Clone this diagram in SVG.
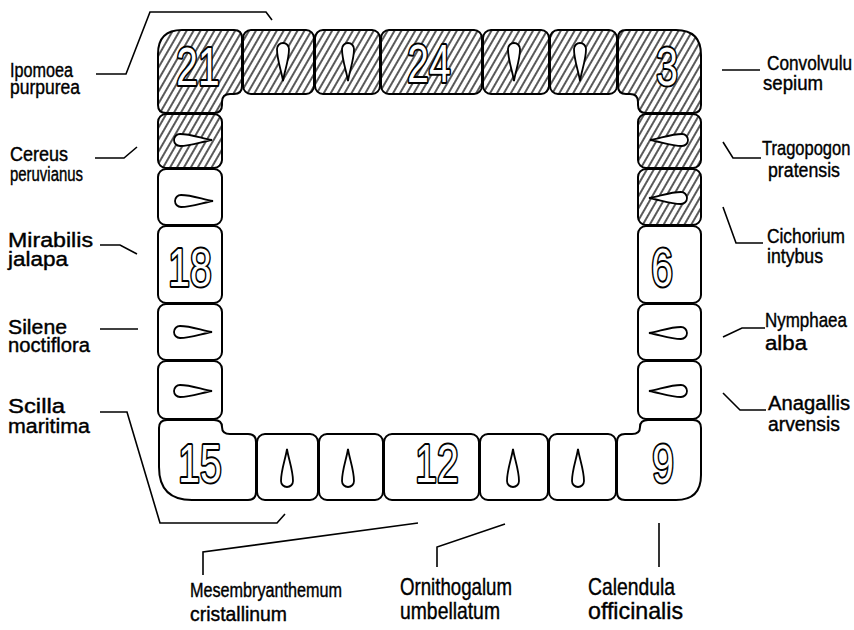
<svg xmlns="http://www.w3.org/2000/svg" width="854" height="630" viewBox="0 0 854 630">
<defs>
<pattern id="hatch" width="6" height="6" patternUnits="userSpaceOnUse" patternTransform="rotate(30)">
<rect width="6" height="6" fill="#fff"/>
<line x1="3" y1="0" x2="3" y2="6" stroke="#000" stroke-width="1.3"/>
</pattern>
<path id="drop" d="M0,-20 C1.5,-10 6,1 6,12 A6,6 0 0 1 -6,12 C-6,1 -1.5,-10 0,-20 Z"/>
</defs>
<style>
.cell{fill:#fff;stroke:#000;stroke-width:2;stroke-linejoin:round}
.h{fill:url(#hatch)}
.num{font-family:"Liberation Sans",Arial,sans-serif;font-size:54px;fill:#fff;stroke:#000;stroke-width:4;paint-order:stroke;stroke-linejoin:round;text-anchor:middle}
.drop{fill:#fff;stroke:#000;stroke-width:1.8}
.lbl{font-family:"Liberation Sans",Arial,sans-serif;font-size:20px;fill:#000;stroke:#000;stroke-width:0.4}
.big{font-size:24px}
.lead{fill:none;stroke:#000;stroke-width:1.6;stroke-linejoin:miter}
</style>
<rect width="854" height="630" fill="#fff"/>

<!-- top row -->
<g id="cell-21">
<path class="cell h" d="M158,54 Q158,30 182,30 L234,30 Q242,30 242,38 L242,86 Q242,94 234,94 L230,94 Q222,94 222,102 L222,105 Q222,113 214,113 L166,113 Q158,113 158,105 Z"/>
<text class="num" transform="translate(198,85) scale(0.72,1)">21</text>
</g>
<g id="cell-22">
<rect class="cell h" x="243" y="30" width="71" height="64" rx="8"/>
<use href="#drop" class="drop" transform="translate(283,61) rotate(180)"/>
</g>
<g id="cell-23">
<rect class="cell h" x="315" y="30" width="65" height="64" rx="8"/>
<use href="#drop" class="drop" transform="translate(348,61) rotate(180)"/>
</g>
<g id="cell-24">
<rect class="cell h" x="381" y="30" width="101" height="64" rx="8"/>
<text class="num" transform="translate(429,82) scale(0.72,1)">24</text>
</g>
<g id="cell-1">
<rect class="cell h" x="483" y="30" width="66" height="64" rx="8"/>
<use href="#drop" class="drop" transform="translate(514,61) rotate(180)"/>
</g>
<g id="cell-2">
<rect class="cell h" x="550" y="30" width="67" height="64" rx="8"/>
<use href="#drop" class="drop" transform="translate(580,61) rotate(180)"/>
</g>
<g id="cell-3">
<path class="cell h" d="M618,38 Q618,30 626,30 L676,30 Q701,30 701,55 L701,105 Q701,113 693,113 L646,113 Q638,113 638,105 L638,102 Q638,94 630,94 L626,94 Q618,94 618,86 Z"/>
<text class="num" transform="translate(667,85) scale(0.72,1)">3</text>
</g>

<!-- left column -->
<g id="cell-20">
<rect class="cell h" x="158" y="114" width="64" height="54" rx="8"/>
<use href="#drop" class="drop" transform="translate(192,140) rotate(90)"/>
</g>
<g id="cell-19">
<rect class="cell" x="158" y="169" width="64" height="56" rx="8"/>
<use href="#drop" class="drop" transform="translate(193,201) rotate(90)"/>
</g>
<g id="cell-18">
<rect class="cell" x="158" y="226" width="64" height="77" rx="8"/>
<text class="num" transform="translate(190,286) scale(0.72,1)">18</text>
</g>
<g id="cell-17">
<rect class="cell" x="158" y="304" width="64" height="56" rx="8"/>
<use href="#drop" class="drop" transform="translate(192,332) rotate(90)"/>
</g>
<g id="cell-16">
<rect class="cell" x="158" y="361" width="64" height="58" rx="8"/>
<use href="#drop" class="drop" transform="translate(192,391) rotate(90)"/>
</g>

<!-- right column -->
<g id="cell-4">
<rect class="cell h" x="638" y="114" width="63" height="54" rx="8"/>
<use href="#drop" class="drop" transform="translate(670,140) rotate(-90)"/>
</g>
<g id="cell-5">
<rect class="cell h" x="638" y="169" width="63" height="56" rx="8"/>
<use href="#drop" class="drop" transform="translate(669,198) rotate(-90)"/>
</g>
<g id="cell-6">
<rect class="cell" x="638" y="226" width="63" height="77" rx="8"/>
<text class="num" transform="translate(662,286) scale(0.72,1)">6</text>
</g>
<g id="cell-7">
<rect class="cell" x="638" y="304" width="63" height="56" rx="8"/>
<use href="#drop" class="drop" transform="translate(669,333) rotate(-90)"/>
</g>
<g id="cell-8">
<rect class="cell" x="638" y="361" width="63" height="58" rx="8"/>
<use href="#drop" class="drop" transform="translate(669,391) rotate(-90)"/>
</g>

<!-- bottom row -->
<g id="cell-15">
<path class="cell" d="M167,420 L214,420 Q222,420 222,427 Q222,434 230,434 L248,434 Q256,434 256,442 L256,492 Q256,500 248,500 L192,500 Q159,500 159,467 L159,428 Q159,420 167,420 Z"/>
<text class="num" transform="translate(200,482) scale(0.72,1)">15</text>
</g>
<g id="cell-14">
<rect class="cell" x="257" y="434" width="61" height="66" rx="8"/>
<use href="#drop" class="drop" transform="translate(287,469)"/>
</g>
<g id="cell-13">
<rect class="cell" x="319" y="434" width="64" height="66" rx="8"/>
<use href="#drop" class="drop" transform="translate(348,469)"/>
</g>
<g id="cell-12">
<rect class="cell" x="384" y="434" width="95" height="66" rx="8"/>
<text class="num" transform="translate(437,482) scale(0.72,1)">12</text>
</g>
<g id="cell-11">
<rect class="cell" x="480" y="434" width="68" height="66" rx="8"/>
<use href="#drop" class="drop" transform="translate(513,469)"/>
</g>
<g id="cell-10">
<rect class="cell" x="549" y="434" width="67" height="66" rx="8"/>
<use href="#drop" class="drop" transform="translate(578,469)"/>
</g>
<g id="cell-9">
<path class="cell" d="M617,442 Q617,434 625,434 L632,434 Q640,434 640,427 Q640,420 648,420 L693,420 Q701,420 701,428 L701,475 Q701,500 676,500 L625,500 Q617,500 617,492 Z"/>
<text class="num" transform="translate(663,482) scale(0.72,1)">9</text>
</g>

<!-- connectors -->
<g id="connectors" class="lead">
<path d="M96,74 L126,74 L150,12 L266,12 L272,20"/>
<path d="M95,158 L124,158 L137,147"/>
<path d="M100,245 L120,245 L137,254"/>
<path d="M100,329 L138,329"/>
<path d="M100,412 L127,412 L160,523 L277,523 L285,514"/>
<path d="M722,70 L760,70"/>
<path d="M723,142 L733,158 L761,158"/>
<path d="M723,207 L736,243 L763,243"/>
<path d="M723,337 L742,328 L765,328"/>
<path d="M723,393 L740,410 L766,410"/>
<path d="M203,575 L203,552 L418,523"/>
<path d="M437,567 L437,547 L505,524"/>
<path d="M659,523 L659,567"/>
</g>

<!-- labels -->
<g id="label-ipomoea" class="lbl">
<text><tspan x="10" y="77" textLength="63" lengthAdjust="spacingAndGlyphs">Ipomoea</tspan><tspan x="10" y="94" textLength="70" lengthAdjust="spacingAndGlyphs">purpurea</tspan></text>
</g>
<g id="label-cereus" class="lbl">
<text><tspan x="10" y="161" textLength="58" lengthAdjust="spacingAndGlyphs">Cereus</tspan><tspan x="10" y="181" textLength="73" lengthAdjust="spacingAndGlyphs">peruvianus</tspan></text>
</g>
<g id="label-mirabilis" class="lbl">
<text><tspan x="8" y="247" textLength="85" lengthAdjust="spacingAndGlyphs">Mirabilis</tspan><tspan x="8" y="266" textLength="60" lengthAdjust="spacingAndGlyphs">jalapa</tspan></text>
</g>
<g id="label-silene" class="lbl">
<text><tspan x="8" y="334" textLength="59" lengthAdjust="spacingAndGlyphs">Silene</tspan><tspan x="8" y="352" textLength="82" lengthAdjust="spacingAndGlyphs">noctiflora</tspan></text>
</g>
<g id="label-scilla" class="lbl">
<text><tspan x="8" y="413" textLength="57" lengthAdjust="spacingAndGlyphs">Scilla</tspan><tspan x="8" y="433" textLength="82" lengthAdjust="spacingAndGlyphs">maritima</tspan></text>
</g>
<g id="label-convolvulus" class="lbl">
<text transform="translate(767,70) scale(0.86,1)">Convolvulu</text>
<text x="763" y="90" textLength="60" lengthAdjust="spacingAndGlyphs">sepium</text>
</g>
<g id="label-tragopogon" class="lbl">
<text transform="translate(762,155) scale(0.825,1)">Tragopogon</text>
<text x="768" y="177" textLength="72" lengthAdjust="spacingAndGlyphs">pratensis</text>
</g>
<g id="label-cichorium" class="lbl">
<text transform="translate(767,243) scale(0.867,1)">Cichorium</text>
<text x="767" y="263" textLength="56" lengthAdjust="spacingAndGlyphs">intybus</text>
</g>
<g id="label-nymphaea" class="lbl">
<text transform="translate(765,327) scale(0.848,1)">Nymphaea</text>
<text x="765" y="350" textLength="42" lengthAdjust="spacingAndGlyphs">alba</text>
</g>
<g id="label-anagallis" class="lbl">
<text><tspan x="768" y="410" textLength="82" lengthAdjust="spacingAndGlyphs">Anagallis</tspan><tspan x="768" y="431" textLength="72" lengthAdjust="spacingAndGlyphs">arvensis</tspan></text>
</g>
<g id="label-mesembryanthemum" class="lbl">
<text><tspan x="190" y="597" textLength="152" lengthAdjust="spacingAndGlyphs">Mesembryanthemum</tspan><tspan x="190" y="621" textLength="97" lengthAdjust="spacingAndGlyphs">cristallinum</tspan></text>
</g>
<g id="label-ornithogalum" class="lbl big">
<text><tspan x="400" y="595" textLength="112" lengthAdjust="spacingAndGlyphs">Ornithogalum</tspan><tspan x="400" y="619" textLength="100" lengthAdjust="spacingAndGlyphs">umbellatum</tspan></text>
</g>
<g id="label-calendula" class="lbl big">
<text><tspan x="588" y="595" textLength="87" lengthAdjust="spacingAndGlyphs">Calendula</tspan><tspan x="588" y="619" textLength="95" lengthAdjust="spacingAndGlyphs">officinalis</tspan></text>
</g>
</svg>
